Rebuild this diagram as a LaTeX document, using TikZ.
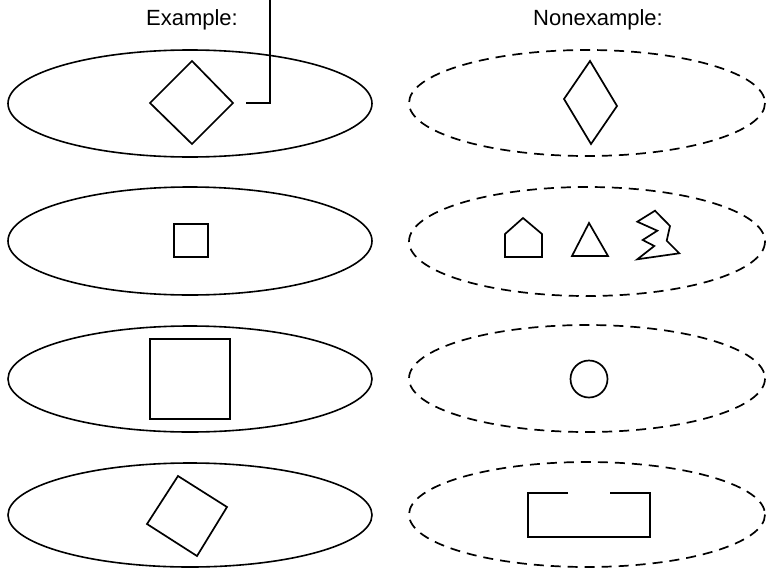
\documentclass[tikz,border=0pt]{standalone}
\usepackage{fontspec}
\setmainfont{Liberation Sans}
\begin{document}
\begin{tikzpicture}[x=1pt,y=-1pt,
  shape line/.style={line width=1.7pt, line join=miter},
  example ring/.style={line width=1.6pt},
  nonexample ring/.style={line width=1.7pt, dash pattern=on 10pt off 7pt},
  heading/.style={font=\fontsize{22}{26}\selectfont, inner sep=0pt}]
\useasboundingbox (0,0) rectangle (767,570);

% headings
\node[heading] (ex)  at (192,20) {Example:};
\node[heading] (nex) at (598,20) {Nonexample:};

% example column
\draw[example ring] (190,103.5) ellipse [x radius=182, y radius=53.5];
\draw[example ring] (190,241) ellipse [x radius=182, y radius=54];
\draw[example ring] (190,379) ellipse [x radius=182, y radius=53];
\draw[example ring] (190,515) ellipse [x radius=182, y radius=52];

% nonexample column
\draw[nonexample ring] (587,103) ellipse [x radius=178, y radius=53];
\draw[nonexample ring] (587,241.5) ellipse [x radius=178, y radius=54.5];
\draw[nonexample ring] (587,378.5) ellipse [x radius=178, y radius=53.5];
\draw[nonexample ring] (587,514.5) ellipse [x radius=178, y radius=52.5];

% row 1: square on its corner, with a callout line
\draw[shape line] (192,61) -- (233,103) -- (192,144) -- (150,103) -- cycle;
\coordinate (callout start) at (246,103);
\coordinate (callout bend) at (270,103);
\coordinate (callout top) at (270,0);
\draw[line width=1.2pt] (callout start) -- (callout bend) -- (callout top);
% rhombus
\draw[shape line] (590,61) -- (617,106) -- (591,144) -- (564,99) -- cycle;

% row 2: small square
\draw[shape line] (174,224) rectangle (208,257);
% house, triangle, zigzag
\draw[shape line] (505,257) -- (505,234) -- (523,218) -- (542,234) -- (542,257) -- cycle;
\draw[shape line] (572,256) -- (589,223) -- (608,256) -- cycle;
\draw[shape line] (637.3,221.7) -- (655,210.7) -- (670,226) -- (666.7,240.7)
  -- (679.3,253.3) -- (637.3,259.3) -- (654.3,246) -- (642.7,240)
  -- (657.3,230.7) -- cycle;

% row 3: large square, circle
\draw[shape line] (150,339) rectangle (230,419);
\draw[shape line] (589,379) circle [radius=18.5];

% row 4: tilted square, open rectangle
\draw[shape line] (178,476) -- (227,507) -- (197,556) -- (147,524) -- cycle;
\draw[shape line] (568,493) -- (528,493) -- (528,537) -- (650,537) -- (650,493) -- (610,493);
\end{tikzpicture}
\end{document}
